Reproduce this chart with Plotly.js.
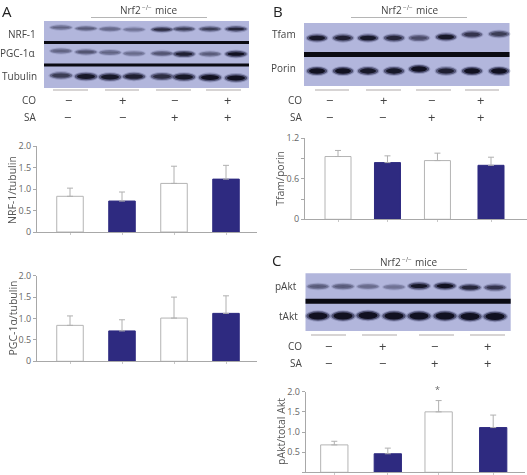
<!DOCTYPE html>
<html><head><meta charset="utf-8">
<script src="https://cdn.plot.ly/plotly-3.0.1.min.js"></script>
<style>html,body{margin:0;padding:0;background:#fff}#c{width:527px;height:475px}#c .infolayer,#c .annotation{filter:grayscale(1)}</style>
</head><body><div id="c"></div><script>
// ---- chart values ----
const groups = ['CO− SA−','CO+ SA−','CO− SA+','CO+ SA+'];
const nrf1Values = [0.83,0.72,1.13,1.23];
const nrf1Errors = [0.19,0.21,0.40,0.32];
const pgcValues  = [0.84,0.71,1.01,1.12];
const pgcErrors  = [0.22,0.26,0.49,0.41];
const tfamValues = [0.93,0.84,0.87,0.80];
const tfamErrors = [0.09,0.10,0.11,0.12];
const aktValues  = [0.68,0.46,1.50,1.11];
const aktErrors  = [0.09,0.14,0.28,0.31];
const coSigns = ['−','+','−','+'];
const saSigns = ['−','−','+','+'];
// band strengths per lane (0..1)
const bandsNrf = [0.45,0.5,0.45,0.35,0.8,0.7,0.7,0.85];
const bandsPgc = [0.45,0.55,0.45,0.4,0.55,0.9,0.5,1];
const bandsTub = [0.7,0.95,0.95,0.9,0.8,0.95,1,1];
const bandsTfam = [0.95,0.9,0.95,0.85,0.6,0.95,0.75,0.7];
const bandsPorin = [1,1,0.95,0.95,1,0.9,1,1];
const bandsPakt = [0.5,0.5,0.4,0.35,0.95,1,0.85,0.75];
const bandsTakt = [1,1,1,1,1,1,1,1];

const W=527,H=475;
const px=x=>x/W, py=y=>1-y/H;
const shapes=[],ann=[];
const BG='#b2b6dc', TXT='#444', AX='#a8a8a8';
const FONT='"Open Sans", "Noto Sans", sans-serif';

function rect(x0,y0,x1,y1,c,o){shapes.push({type:'rect',xref:'paper',yref:'paper',x0:px(x0),x1:px(x1),y0:py(y1),y1:py(y0),fillcolor:c,opacity:o==null?1:o,line:{width:0},layer:'below'});}
function ell(cx,cy,rx,ry,c,o){shapes.push({type:'circle',xref:'paper',yref:'paper',x0:px(cx-rx),x1:px(cx+rx),y0:py(cy+ry),y1:py(cy-ry),fillcolor:c,opacity:o,line:{width:0},layer:'below'});}
function text(x,y,t,size,anchor,col){ann.push({xref:'paper',yref:'paper',x:px(x),y:py(y),text:t,showarrow:false,xanchor:anchor||'center',yanchor:'middle',font:{family:FONT,size:size,color:col||TXT},borderpad:0,bgcolor:'rgba(0,0,0,0)'});}
function bands(lanes,y,ys,strengths,rx,ry){
  lanes.forEach((x,i)=>{const s=strengths[i],h=ry*(0.55+0.55*s),yy=y+(ys?ys[i]:0);
    ell(x,yy,rx+2,h+1.6,'#6d7096',0.35*s+0.1);
    ell(x,yy,rx+0.8,h+0.5,'#3a3b5c',0.6*s+0.15);
    ell(x,yy,rx-1.5,Math.max(0.8,h-0.8),'#0e0e1c',0.95*s*s);
  });
}
function header(lineX0,lineX1,lineY,xLeft,textY){
  rect(lineX0,lineY-0.4,lineX1,lineY+0.4,'#b5b5b5');
  text(xLeft-1,textY,'Nrf2',10,'left');
  text(xLeft+20.5,textY-2.5,'−/−',6.5,'left','#666');
  text(xLeft+34,textY,'mice',10,'left');
}
function groupLines(arr,y){arr.forEach(a=>rect(a[0],y-0.4,a[1],y+0.4,'#b0a9a9'));}
function signs(xs,yCo,ySa,xLabel){
  text(xLabel,yCo,'CO',10,'right');text(xLabel,ySa,'SA',10,'right');
  xs[0].forEach((x,i)=>text(x,yCo,coSigns[i],13));
  xs[1].forEach((x,i)=>text(x,ySa,saSigns[i],13));
}
// Panel A
text(1,10.5,'A',15,'left','#222');
header(91,207,17.5,120,9.5);
rect(44,21,249,88,BG);
const lanesA=[61,86,110,134,162,184,210,236];
bands(lanesA,28.5,[-1,0,0.5,1,1,0.5,0.5,0.5],bandsNrf,10,2.1);
bands(lanesA,52,[-1,0,0.5,1.5,1.5,2,2,2],bandsPgc,10,2.4);
bands(lanesA,76.5,[-1,0,0.5,0,0,0.5,1,1.5],bandsTub,10.5,3);
rect(44,41,249,44,'#0a0a12');
rect(44,63.5,249,66.5,'#0a0a12');
text(37,34,'NRF-1',10,'right');text(36,53,'PGC-1α',10,'right');text(38,76,'Tubulin',10,'right');
groupLines([[53,88],[105,139],[156,191],[206,241]],90);
signs([[68,122,174,227],[67,122,174,227]],100,117,37);
// Panel B
text(272,10.5,'B',15,'left','#222');
header(351,467,17.5,381,9.5);
rect(304,23,509.5,86,BG);
const lanesB=[317,343,368,394,419,446,472,499];
bands(lanesB,38,[0,0,0,0,0,-1,-3.5,-4],bandsTfam,9.5,2.9);
bands(lanesB,71,[0,0,0,0,-2,0,0,0],bandsPorin,9.5,3.2);
rect(304,52,509.5,57,'#0a0a12');
text(297,34,'Tfam',10,'right');text(297,68,'Porin',10,'right');
groupLines([[315,349],[366,401],[416,451],[465,499]],90);
signs([[329,383,431,480],[329,382,431,480]],100,117,303);
// Panel C
text(271,260,'C',15,'left','#222');
header(350,467,269.5,380,262);
rect(305.5,273.3,510.7,331,BG);
const lanesC=[318,343,368,394,419,445,470,495];
bands(lanesC,286.5,[0,0,0,0.5,-0.5,-0.5,1,1],bandsPakt,10,2.7);
bands(lanesC,316,[0,0,-0.5,0,0,0,0.5,0.5],bandsTakt,11,3.8);
rect(305.5,298.7,510.7,303.7,'#0a0a12');
text(298,286,'pAkt',10,'right');text(299,316,'tAkt',10,'right');
groupLines([[311,346],[362,397],[419,454],[470,505]],335);
signs([[328,382,434,487],[328,382,434,487]],346,362.7,303);
text(437.7,389,'*',9,'center','#666');

// ---- bar panels ----
const traces=[];const layout={
  width:W,height:H,margin:{l:0,r:0,t:0,b:0},paper_bgcolor:'#fff',plot_bgcolor:'rgba(0,0,0,0)',showlegend:false,
  shapes:shapes,annotations:ann,font:{family:FONT,color:TXT}
};
const panels=[
 {n:'',vals:nrf1Values,errs:nrf1Errors,pos:[0,1,2,3],xd:[37,257],y0:232,y1:146,max:2,labelled:[0,0.5,1,1.5,2],minor:[],title:'NRF-1/tubulin',c0:70,step:52,tx:12},
 {n:'2',vals:pgcValues,errs:pgcErrors,pos:[0,1,2,3],xd:[37,257],y0:361.3,y1:275.7,max:2,labelled:[0,0.5,1,1.5,2],minor:[],title:'PGC-1α/tubulin',c0:70,step:52,tx:12},
 {n:'3',vals:tfamValues,errs:tfamErrors,pos:[0,0.97,1.95,3],xd:[305,527],y0:219.3,y1:138.3,max:1.2,labelled:[0,0.6,1.2],minor:[0.3,0.9],title:'Tfam/porin',c0:338,step:51,tx:280},
 {n:'4',vals:aktValues,errs:aktErrors,pos:[0,1,1.95,2.97],xd:[305.7,525],y0:472.3,y1:391.7,max:2,labelled:[0,0.5,1,1.5,2],minor:[],title:'pAkt/total Akt',c0:334.3,step:53.5,tx:281}
];
panels.forEach(p=>{
  const xa='xaxis'+p.n, ya='yaxis'+p.n;
  layout[xa]={domain:[px(p.xd[0]),px(p.xd[1])],range:[(p.xd[0]-p.c0)/p.step,(p.xd[1]-p.c0)/p.step],anchor:'y'+p.n,
    tickmode:'array',tickvals:p.pos,showticklabels:false,ticks:'outside',ticklen:2,tickcolor:'#c8c8c8',tickwidth:1,
    showgrid:false,zeroline:false,showline:true,linecolor:AX,linewidth:1,fixedrange:true};
  layout[ya]={domain:[py(p.y0),py(p.y1)],range:[0,p.max],anchor:'x'+p.n,
    tickmode:'array',tickvals:p.labelled,ticktext:p.labelled.map(v=>v===0?'0':v.toFixed(1)),ticks:'outside',ticklen:3,tickcolor:AX,tickwidth:1,
    tickfont:{family:FONT,size:9,color:'#666'},showgrid:false,zeroline:false,showline:true,linecolor:AX,linewidth:1,fixedrange:true};
  if(p.minor.length) layout[ya].minor={tickmode:'array',tickvals:p.minor,ticks:'outside',ticklen:3,tickcolor:AX,tickwidth:1,showgrid:false};
  traces.push({type:'bar',x:p.pos,y:p.vals,xaxis:'x'+p.n,yaxis:'y'+p.n,width:0.51,customdata:groups,
    marker:{color:['#ffffff','#2e2a80','#ffffff','#2e2a80'],line:{color:['#b4b4b4','#2e2a80','#b4b4b4','#2e2a80'],width:1}},
    error_y:{type:'data',symmetric:false,array:p.errs,arrayminus:[0,0,0,0],color:'#b0b0b0',thickness:1,width:3}});
  text(p.tx,(p.y0+p.y1)/2+(p.title.startsWith('NRF')?1:0),p.title,10.5);
  const a=ann[ann.length-1];a.textangle=-90;a.font.color='#555';
});
Plotly.newPlot('c',traces,layout,{staticPlot:true,displayModeBar:false});
</script></body></html>
